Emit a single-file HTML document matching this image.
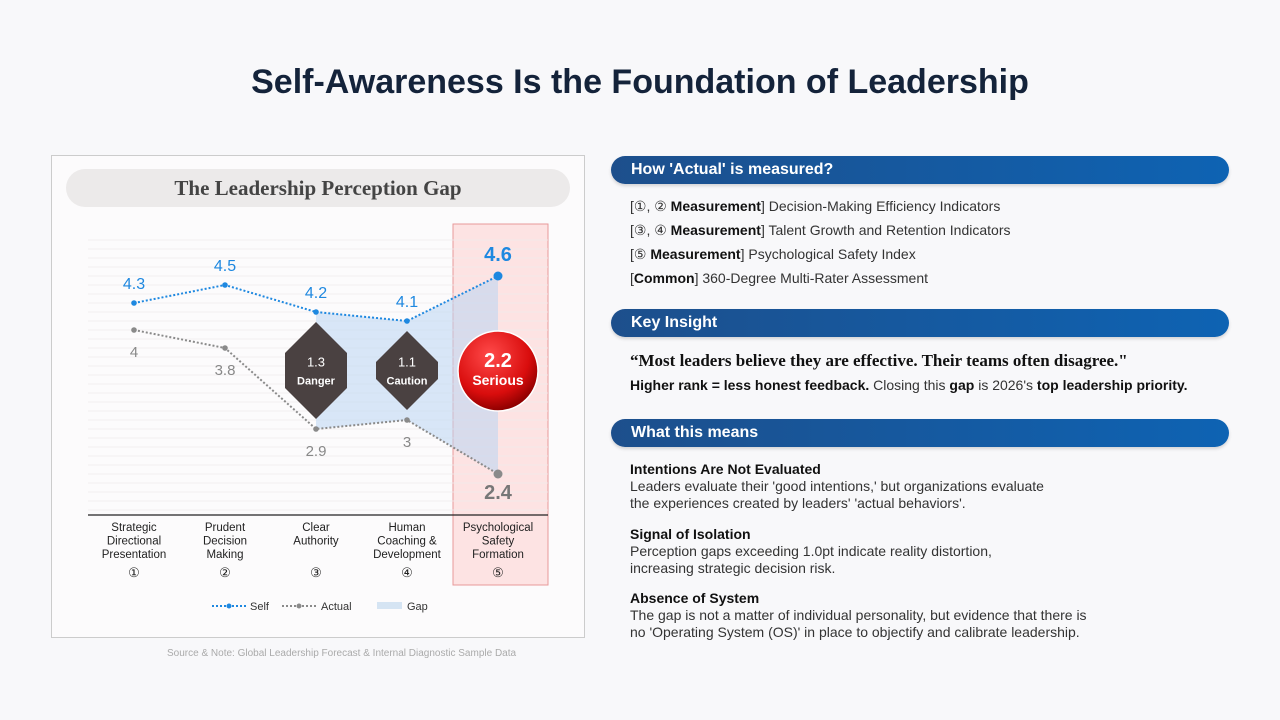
<!DOCTYPE html>
<html><head><meta charset="utf-8">
<style>
body{margin:0;width:1280px;height:720px;background:#f8f8fa;font-family:"Liberation Sans",sans-serif;position:relative;overflow:hidden;color:#222}
.title{position:absolute;top:63px;left:0;width:1280px;text-align:center;font-size:34px;font-weight:bold;color:#14233a}
.panel{position:absolute;left:51px;top:155px;width:532px;height:481px;border:1px solid #ccc;background:#fcfbfc}
.ptitle{position:absolute;left:14px;top:13px;width:504px;height:38px;border-radius:19px;background:#eceaea;text-align:center;font-family:"Liberation Serif",serif;font-size:21px;font-weight:bold;line-height:38px;color:#444}
.src{position:absolute;left:167px;top:648px;font-size:10px;color:#aaa}
.bar{position:absolute;left:611px;width:618px;height:28px;border-radius:14px;background:linear-gradient(90deg,#1d4f8c,#0e63b3);color:#fff;font-weight:bold;font-size:16px;line-height:28px;padding-left:20px;box-sizing:border-box;box-shadow:0 2px 3px rgba(0,0,0,.15)}
.t{position:absolute;left:630px;font-size:14px;color:#333}
b{color:#111}
</style></head><body>
<div class="title">Self-Awareness Is the Foundation of Leadership</div>
<div class="panel">
<div class="ptitle">The Leadership Perception Gap</div>
</div>
<svg id="chart" style="position:absolute;left:0;top:0" width="1280" height="720"></svg>
<div class="src">Source &amp; Note: Global Leadership Forecast &amp; Internal Diagnostic Sample Data</div>

<div class="bar" style="top:156px">How 'Actual' is measured?</div>
<div class="t" style="top:198px">[①, ② <b>Measurement</b>] Decision-Making Efficiency Indicators</div>
<div class="t" style="top:222px">[③, ④ <b>Measurement</b>] Talent Growth and Retention Indicators</div>
<div class="t" style="top:246px">[⑤ <b>Measurement</b>] Psychological Safety Index</div>
<div class="t" style="top:270px">[<b>Common</b>] 360-Degree Multi-Rater Assessment</div>

<div class="bar" style="top:309px">Key Insight</div>
<div class="t" style="top:351px;font-family:'Liberation Serif',serif;font-weight:bold;font-size:17px;color:#111">“Most leaders believe they are effective. Their teams often disagree."</div>
<div class="t" style="top:377px"><b>Higher rank = less honest feedback.</b> Closing this <b>gap</b> is 2026's <b>top leadership priority.</b></div>

<div class="bar" style="top:419px">What this means</div>
<div class="t" style="top:461px;line-height:17px"><b>Intentions Are Not Evaluated</b><br>Leaders evaluate their 'good intentions,' but organizations evaluate<br>the experiences created by leaders' 'actual behaviors'.</div>
<div class="t" style="top:526px;line-height:17px"><b>Signal of Isolation</b><br>Perception gaps exceeding 1.0pt indicate reality distortion,<br>increasing strategic decision risk.</div>
<div class="t" style="top:590px;line-height:17px"><b>Absence of System</b><br>The gap is not a matter of individual personality, but evidence that there is<br>no 'Operating System (OS)' in place to objectify and calibrate leadership.</div>

<script>
const categories=[["Strategic","Directional","Presentation","①"],["Prudent","Decision","Making","②"],["Clear","Authority","","③"],["Human","Coaching &","Development","④"],["Psychological","Safety","Formation","⑤"]];
const selfValues=[4.3,4.5,4.2,4.1,4.6];
const actualValues=[4.0,3.8,2.9,3.0,2.4];
const gapStart=2;
const NS="http://www.w3.org/2000/svg";
const svg=document.getElementById('chart');
function x(i){return 134+i*91;}
function y(v){return 303-(v-4.3)*90;}
function mk(t,a,txt){const e=document.createElementNS(NS,t);for(const k in a)e.setAttribute(k,a[k]);if(txt!=null)e.textContent=txt;svg.appendChild(e);return e;}
let e=mk('rect',{x:453,y:224,width:95,height:361,fill:'#fde3e3',stroke:'#e89a9a','stroke-width':1});

for(let gy=240;gy<512;gy+=9){mk('line',{x1:88,x2:548,y1:gy,y2:gy,stroke:'#efebed','stroke-width':0.8});}
mk('line',{x1:88,x2:548,y1:515,y2:515,stroke:'#222','stroke-width':1.2});
let pts=[];for(let i=gapStart;i<5;i++)pts.push(x(i)+','+y(selfValues[i]));for(let i=4;i>=gapStart;i--)pts.push(x(i)+','+y(actualValues[i]));
e=mk('polygon',{points:pts.join(' '),fill:'#b9d6f2','fill-opacity':0.55});

function series(vals,color,name){
 e=mk('polyline',{points:vals.map((v,i)=>x(i)+','+y(v)).join(' '),fill:'none',stroke:color,'stroke-width':2,'stroke-dasharray':'2 2'});
 
 vals.forEach((v,i)=>{e=mk('circle',{cx:x(i),cy:y(v),r:i==4?4.5:2.8,fill:color});
 });
}
series(actualValues,'#8a8a8a','actual');
series(selfValues,'#1e88e0','self');
selfValues.forEach((v,i)=>{e=mk('text',{x:x(i),y:y(v)-(i==4?15:14),'text-anchor':'middle','font-size':i==4?20:16,'font-weight':i==4?'bold':'normal',fill:'#1e88e0'},String(v));
 });
actualValues.forEach((v,i)=>{e=mk('text',{x:x(i),y:y(v)+(i==4?25:27),'text-anchor':'middle','font-size':i==4?20:15,'font-weight':i==4?'bold':'normal',fill:i==4?'#777':'#888'},String(v));
 });
[[2,'Danger'],[3,'Caution']].forEach(([i,l])=>{const cx=x(i),t=y(selfValues[i])+10,b=y(actualValues[i])-10,m=(t+b)/2;
 e=mk('polygon',{points:`${cx},${t} ${cx+31},${t+31} ${cx+31},${b-31} ${cx},${b} ${cx-31},${b-31} ${cx-31},${t+31}`,fill:'#4a4141'});
 
 mk('text',{x:cx,y:m-4,'text-anchor':'middle','font-size':13,fill:'#fff'},(selfValues[i]-actualValues[i]).toFixed(1));
 mk('text',{x:cx,y:m+14,'text-anchor':'middle','font-size':11,'font-weight':'bold',fill:'#fff'},l);});
const defs=mk('defs',{});defs.innerHTML='<radialGradient id="rg" cx="40%" cy="30%" r="70%"><stop offset="0" stop-color="#ff4a4a"/><stop offset="0.7" stop-color="#d90d0d"/><stop offset="1" stop-color="#8f0000"/></radialGradient>';
e=mk('circle',{cx:498,cy:371,r:40,fill:'url(#rg)',stroke:'#fff','stroke-width':1.5});

mk('text',{x:498,y:367,'text-anchor':'middle','font-size':20,'font-weight':'bold',fill:'#fff'},(selfValues[4]-actualValues[4]).toFixed(1));
mk('text',{x:498,y:385,'text-anchor':'middle','font-size':14,'font-weight':'bold',fill:'#fff'},'Serious');
categories.forEach((c,i)=>c.forEach((s,j)=>{if(!s)return;e=mk('text',{x:x(i),y:j==3?577:531+j*13.5,'text-anchor':'middle','font-size':j==3?13:11.5,fill:'#222'},s);
 }));
mk('line',{x1:212,x2:246,y1:606,y2:606,stroke:'#1e88e0','stroke-width':2,'stroke-dasharray':'2 2'});mk('circle',{cx:229,cy:606,r:2.5,fill:'#1e88e0'});
mk('text',{x:250,y:610,'font-size':11,fill:'#333'},'Self');
mk('line',{x1:282,x2:316,y1:606,y2:606,stroke:'#8a8a8a','stroke-width':2,'stroke-dasharray':'2 2'});mk('circle',{cx:299,cy:606,r:2.5,fill:'#8a8a8a'});
mk('text',{x:321,y:610,'font-size':11,fill:'#333'},'Actual');
mk('rect',{x:377,y:602,width:25,height:7,fill:'#d5e4f3'});
mk('text',{x:407,y:610,'font-size':11,fill:'#333'},'Gap');
</script>
</body></html>
